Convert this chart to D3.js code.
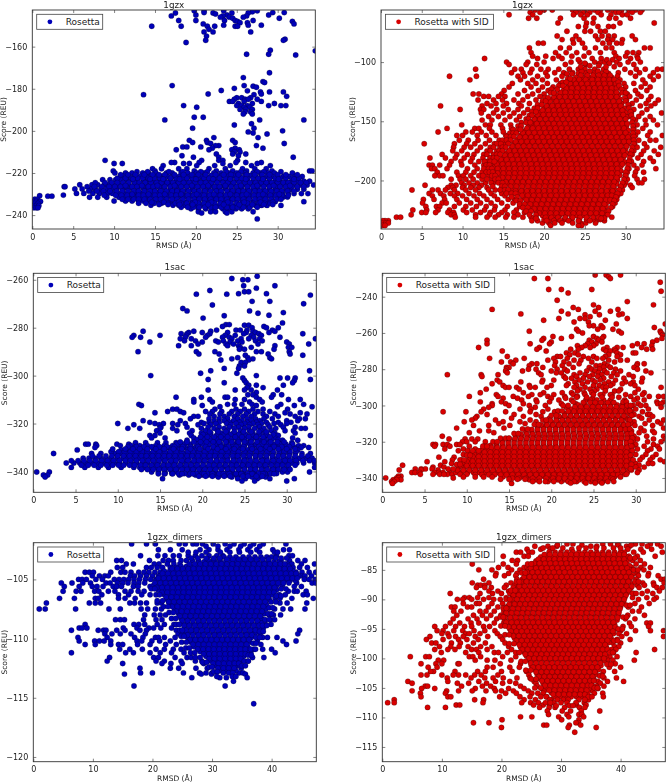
<!DOCTYPE html>
<html lang="en">
<head>
<meta charset="utf-8">
<title>rosetta score vs rmsd</title>
<script src="https://d3js.org/d3.v7.min.js"></script>
<style>
    body { margin: 0; background: #fff; }
    svg { display: block; filter: blur(0.35px); }
    text { font-family: "DejaVu Sans", sans-serif; fill: #222; }
</style>
</head>
<body>
<svg id="canvas" width="666" height="782"></svg>
<script>
// every row is: score, then the rmsd values read at about that score
// (the solid parts can't be read point by point)
const gzxRosetta = [
[-143,19.8,21,23.4,27.5],[-143.4,26.9],[-143.8,21,29.4,30.8],[-144,17.5,22.1,26.4,24.4],[-144.5,22.4],[-145,20,23.8,28.9],[-145.4,17,23.3,26.2],[-146,23,25.8,24.1],[-146.5,24.5,30.2],[-147.6,17.9,20,23.5,24.8,27],[-148,25.1,31.8],[-148.6,25.4,26.3],[-149.2,20.9,32],[-149.8,23.4,26.4,28],[-150.3,14.6,18.2,21.4,22.3,24.8,25.1],[-151.8,21.6],[-153,21,22.1,26.7],[-155,21.3],[-156.5,30.9],[-157,21.2,30.7],[-158,18.8],[-161.7,29.1],[-162,34.6],[-163.6,26.2,28.9],[-164,32.2],
[-172.4,29],[-174.7,25.8],[-176.6,28.2],[-177,28.4],[-178.5,17.1,25.9],[-178.8,27],[-179.3,27.4],[-179.8,24.7],[-180.8,23.1],[-181,26.3],[-181.5,27.9,29,30.7],[-182.5,21.5,28],[-182.8,13.6,27.1],[-183.6,31.1],[-184.3,25,25.6,26.7],[-185,24.7,26,26.4,27.5],[-186,24.1,28,24.5,25.9],[-187,25.2,26.9,29.6],[-188,18.5,25,25.6,28.9,31,26.3,30.4],[-188.8,20.1,25.9,26.6],[-189.8,25.4,26.1,26.9],[-191,26,26.7],[-192,25.8,26.9],[-193.5,19.8,20.9],[-194.8,16.2,27.8,33.2],[-196.6,26.8],[-197.2,24.7],[-198.7,19.6,27.1],[-200,30.6],[-200.5,26.4],[-201,27],[-201.5,28.7],[-203.2,22.2,27.6],[-204.5,24.5,19.2,21.3],[-205.5,19.6,24.8,21.4],[-206,30.8,21.8],[-207,22.8,27.4,22.4],[-207.6,18.4,18.9,20.6],[-208.2,28.2,24.8,22],[-209,17.6,21.6,25.3,24.4],[-210,24.7,25.4],[-211,22.5,26.1,24.5],[-211.8,18.3,25.2],[-212.5,19.7,22.8,31.9],[-214,8.9,22.8,25.1,20.7,23.3],[-215,17.4,17,20.4,26.1,24.9,28],[-215.5,10,11,18.5,19.2,27.5,23.3],[-216.5,16,22.3,29.1,20.1,24.2,26.8],[-218,17.9,14.7,15.8,18.9,21.6,23.6,25.7,27.2,28.6],[-219,9.9,15,33.9,34.2,19.8,22.5,24.5,26.2,29.3],
[-220,10.1,11.4,12.2,13.5,14.2,15.1,16.4,17.1,18.2,19,20.1,21,22.2,23.1,24,25,26,27,27.9,28.8,29.6,31.8],
[-221.5,11.1,11.8,12.5,13.2,13.9,14.5,15.3,15.9],[-221.8,16.6,17.2,17.9,18.7,19.2,19.9,20.6,21.3],[-221.2,21.9,22.6,23.2,24,24.6,25.3,26,26.6],[-221.7,27.3,28,28.7,29.3,30,30.7,31.4,32.1,33],
[-223.2,8.6,9.5,10.2,10.8,11.5,12.2,12.8,13.6,14.2],[-223.8,14.9,15.5,16.2,16.9,17.6,18.3,18.9,19.6,20.3],[-223.5,20.9,21.6,22.3,23,23.7,24.3,25,25.7,26.3],[-223.9,27,27.7,28.3,29,29.7,30.3,31,31.7,32.4,33.2,33.9],
[-225.6,5.8,7.3,8,8.8,9.3,9.9,10.6,11.2,11.8],[-225.2,12.5,13.2,13.9,14.5,15.2,15.9,16.6,17.2],[-225.8,17.9,18.6,19.3,19.9,20.6,21.2,22,22.6,23.3],[-225.4,24,24.6,25.3,26,26.6,27.3,28,28.7],[-225.7,29.3,30,30.7,31.3,32,32.8,33.6,34.4],
[-227.6,5.2,6.1,7.1,7.7,8.4,9.1,9.7,10.3,11],[-227.2,11.6,12.2,12.9,13.6,14.2,14.9,15.6,16.2],[-227.8,16.9,17.6,18.2,18.9,19.6,20.3,21,21.6],[-227.4,22.3,22.9,23.6,24.3,25,25.6,26.3,27],[-227.7,27.6,28.3,29,29.7,30.3,31,31.6,32.4,33.2],
[-229.7,5.4,6.3,7.4,8.2,9.2,9.8,10.5,11.2,11.8,12.5],[-229.2,13.1,13.8,14.5,15.2,15.8,16.5,17.2,17.8],[-229.9,18.5,19.2,19.9,20.6,21.2,21.9,22.6,23.2],[-229.4,23.9,24.6,25.2,25.9,26.6,27.3,27.9,28.6],[-229.8,29.3,29.9,30.6,31.3,32,32.9,33.7],
[-231.5,7,8,9.1,10.6,11.3,12,12.6,13.3,13.9],[-231.2,14.6,15.2,15.9,16.6,17.3,17.9,18.6,19.3],[-231.9,19.9,20.6,21.3,22,22.6,23.3,24,24.6],[-231.4,25.3,26,26.6,27.3,28,28.6,29.3,30,30.7,31.2],
[-233.3,10,11.4,12.2,13,13.6,14.3,15,15.6,16.3],[-233.8,16.9,17.6,18.3,18.9,19.6,20.3,21],[-233.2,21.6,22.3,23,23.6,24.3,25,25.7],[-233.6,26.3,27,27.7,28.3,29,29.7,33.2],
[-235.3,14.5,17.2,17.9,18.6,19.3,20,20.6,21.3],[-235.8,22,22.6,23.3,24,24.6,25.3,26,26.6],[-235.4,27.3,28,28.7,30.4],
[-237,19.4,20.3,21.2,22.1,23.3,24.1,24.9,25.6,26.4],[-238.4,20.3,21.8,22.4,23.6,24.4,27],[-239,20.7,23.8],[-241.8,27.5],
[-230.5,3.8],[-226.5,3.9,4],[-231,1.9,2.4],[-230.8,0.9],[-232.5,0.3,0.6],[-233.5,0.2,0.5,0.9,1],[-234.5,0.3,0.7],[-235.5,0.2,0.5,0.8],[-236.5,0.2,0.5,0.7]
];
const gzxRosettaFill = [
[-222.5,10.4,11.4,12.1,12.9,13.5,14.2,14.9,15.6,16.2,16.9,17.6,18.3,18.9,19.6,20.2,21,21.6,22.3,22.9,23.6,24.3,25,25.6,26.3,27,27.6,28.3,29,29.7,30.3,31,31.8,32.6],
[-224.6,7.7,8.9,9.7,10.4,11.1,11.8,12.5,13.1,13.8,14.5,15.2,15.8,16.5,17.2,17.9,18.5,19.2,19.9,20.6,21.2,21.9,22.6,23.3,23.9,24.6,25.3,26,26.6,27.3,28,28.6,29.3,30,30.7,31.3,32,32.8,33.5],
[-226.5,6.7,7.6,8.5,9.4,10.1,10.8,11.5,12.2,12.8,13.5,14.2,14.8,15.5,16.2,16.9,17.5,18.2,18.9,19.6,20.2,20.9,21.6,22.3,22.9,23.6,24.3,25,25.6,26.3,27,27.6,28.3,29,29.7,30.3,31,31.7,32.4,33.2],
[-228.6,6.9,7.9,8.7,9.5,10.3,11,11.7,12.4,13,13.7,14.4,15,15.7,16.4,17.1,17.7,18.4,19.1,19.8,20.4,21.1,21.8,22.5,23.1,23.8,24.5,25.2,25.8,26.5,27.2,27.8,28.5,29.2,29.9,30.5,31.2,32],
[-230.6,8.8,10.2,10.9,11.6,12.3,13,13.6,14.3,15,15.6,16.3,17,17.6,18.3,19,19.7,20.3,21,21.7,22.4,23,23.7,24.4,25,25.7,26.4,27.1,27.7,28.4,29.1,29.8,30.5,31.3],
[-232.5,11,11.7,12.4,13,13.7,14.4,15.1,15.7,16.4,17.1,17.7,18.4,19.1,19.8,20.4,21.1,21.8,22.5,23.1,23.8,24.5,25.1,25.8,26.5,27.2,27.8,28.5,29.2,29.9,30.4],
[-234.4,13,13.9,14.9,15.8,16.6,17.5,18.2,18.9,19.6,20.3,21,21.6,22.3,23,23.7,24.3,25,25.7,26.3,27,27.7,28.4,29.1],
[-236.3,18.2,19,19.7,20.4,21.1,21.8,22.4,23.1,23.8,24.5,25.1,25.8,26.6,27.5]
];
const gzxRosettaEdge = [
[-219.4,12.8,14.1,16.7,18.4,20.6,21.4,23.7,25.5,27.5,28.3,30.4],[-220.8,10.8,11.7,12.6,13.7,14.7,15.5,16.2,17.4,18.5,19.5,20.3,21.2,22.4,23.4,24.3,25.2,26.2,27.2,28.1,29,30,31,32.4],[-222.9,12.3,14.4,16,18,20,22.1,24.2,26.1,28.2,30.1,32],[-226,11.4,13.4,15.3,17.4,19.5,21.5,23.6,25.5,27.5,29.5,31.5],[-230.1,12.2,14.2,16.2,18.2,20.1,22.2,24.2,26.2,28.2,30.2],[-233.9,14.6,16.1,17.9,19.9,21.9,23.9,25.9,27.9,29.4],[-235,15.5,16.6,18,19.6,21.5,23.4,25.3,26.9,28.3,29.4]
];
const gzxSid = [
[-56,18.9,20,21,23.5,24.2,25,26.2,26.9,27.8,28.4,29.5,30.4,31.2,32],[-58,18.3,19.5,23.9,24.8,25.6,26.6,28.8,29.2,30.8,31.8],[-60,15.7,18.6,23.6,24.5,25.3,27,28.2,29.6,30.2],[-63,18.1,19.1,22,24.9,26.1,28,28.8,30.6],[-67,21.7,25.2,26,29.3,33.5],[-70,24.2,25.1,26.6,27.9,28.5],[-74,22.8,25,25.7,26.9,27.5],[-78,21.6,23.9,26.3,27.1,27.9,28.6,30.8],[-81,22.2,23.5,24.3,26.6,27.8,28.4,29.6,31.2],[-84,19.3,19.9,23.6,24.7,27.2,28,28.9,29.5],[-88,18.2,22,23.1,25,26.3,27.6,28.3,32.3,33],[-92,18.4,21.4,22.7,24,25.5,26.9,28.6,30.2,30.9,31.6],[-95,18.6,20.2,21.8,23.4,24.9,28.8,30,31.4],[-97,12.7,19.2,21.1,22.2,25.9,27,29.2,30.6,31.5],[-100,15.4,18,20,23.3,24.4,26.2,27.4,28.9,30.3,31.8],[-102,15.7,17.8,19.1,22.6,25.1,29.3,31],[-106,11.6,16.4,17.2,18.5,19.6,20.5,21.8,23.1,24.2,29.9,31.3,32.4,33.9,34.5],[-109,16,17.4,18.3,20.2,21.3,22.4,23.5,29.1,30.6,31.7,33.4],[-112,8.4,11.7,16.8,17.6,19.2,20.4,22.2,29,31.2,33,34],[-115,10.9,17.1,18.6,19.8,21.5,29.3,32.1,33.4],[-118,16.1,18,19,20.4,22,29.8,31,32.4],[-121,15.7,18.4,19.8,21.1,30,31.9,33],[-124,15.1,17.6,19.3,20.5,29.8,31.2,32.6],[-127,11.3,12,14.8,16.8,18.6,20,30.2,31.5],[-129,12.6,13.2,14.4,15.2,18,19.5,30.5,31.9,33.1],[-132,11.9,13.8,14.9,16.3,17.4,19,30.1,31.3,32.8,34],[-135,13,14.1,15.4,16.9,18.2,30.8,32.5,33.6],[-137,7.3,12.4,13.5,15,17.2,30.4,31.8,33.1],[-140,9.7,12.2,12.6,14.2,15.6,16.8,18,31,32.6],[-143,12.3,13.8,15,16.3,17.5,30.7,32,34.4],[-146,13.2,14.4,15.8,17,30.4,31.6,33],[-149,12.4,13.6,15.2,16.6,31.2,32.4,33.4],[-153,9.9,12.8,13.4,14.7,15.9,31.4,32.5,33.9],[-156,8.1,11.5,12,13.3,14.9,16,31,32.1],[-159,7,10.4,11.2,12.3,13.6,15,31.5,33],[-162,9.3,10,11.8,12.9,14.1,15.3,31.2,32.7,34.5],[-166,9.6,10.7,11.9,13.3,14.5,31.6,33,33.7],[-169,5.3,9,10.5,11.5,12.8,13.9,15,31.1,32.3],[-172,8.9,10.2,11,12.2,13.4,14.6,31.4,32.6,34.3],[-175,8.8,9.9,11.8,13,14.2,31,32.2,33.5],[-178,7.5,9.3,10.6,11.4,12.6,13.8,30.8,31.9,34],[-181,6,7.9,9.1,10.2,11.2,12.5,13.4,31.5,33],[-184,8.6,9.8,11,12,13,30.7,32.2,33.4],[-187,5.9,6.3,7.2,8.4,9.9,11.5,12.6,13.5,31,32],[-190,6.2,6.6,8.1,10.6,11.8,13.1,30.4,31.4,33.7],[-193,6.9,9.3,10.4,11.4,12.4,30.2,31.2,32.2],[-196,6.6,7.2,7.6,9.5,10.1,11,12,13.1,30,31.1],[-199,8.6,9.7,10.4,11.3,12.4,13.6,30.2,31.4,32.3],[-202,9.9,10.8,11.8,12.8,13.8,30,31.6,32],[-204,5.4,8.6,9.2,10.2,11.3,12.3,29.8,30.6],[-206,8.2,8.8,10,11,12,13,29.4,30.8],[-208,3.8,6.3,7,7.9,9,10.4,11.6,13.2,14,29.6],[-211,5.9,7.3,8.5,9.4,10.8,12.1,13.5,14.8,29.4],[-213,6.3,7.7,9,10,11.4,12.6,13.9,15.2,29],[-216,5.2,6.5,7.8,9.3,10.5,11.8,13,14.3,15.6,16.4,28.9],[-219,5.1,7.5,8,9.6,11,12.2,13.5,14.8,16.2,28.7],[-222,5.5,6.8,7.2,9,10.4,11.7,12.9,14,15.5,17,28.4],[-225,3.9,5.6,7,8.4,10.1,11.2,12.7,13.9,15.2,16.6],[-227,5,5.5,6.7,8.2,8.9,10.5,12.2,13.4,14.8,16.3,17.6],[-229,3.7,8.6,9,11.6,13.3,14.4,15.5,16.8],[-231,1.9,2.4,9.1,11.6,13,14,15.3,16.3,17.4,18.4,19,28.3],[-234,0.9,0.5,0.2,18.5,19.2,27.4,26.4],[-236,0.2,0.6,0.9,19.8,20.6,24.5,25.1,26.3],[-238,0.2,0.5,20.8,24.6,24.2],
[-106,25,26.2,27.3],[-109.5,24.2,25.1,26.1,27,27.9],[-113,23.9,24.7,25.5,26.2,27,27.7,28.3],[-116.5,23.4,24.1,24.8,25.6,26.3,27,27.7,28.4],[-120,23,23.7,24.4,25.1,25.8,26.5,27.2,27.9,28.6],[-123.8,22.4,23.1,23.8,24.5,25.2,25.9,26.6,27.3,28,28.7],[-127.5,21.5,22.2,22.9,23.6,24.3,25,25.7,26.4,27.1,27.8,28.5,29.1],[-131.3,21,21.6,22.3,23,23.7,24.4,25.1,25.8,26.5,27.2,27.9,28.6,29.3],[-135,20.5,21.3,21.9,22.6,23.3,24,24.7,25.4,26.1,26.8,27.5,28.2,28.9,29.5],[-139,20,20.7,21.4,22.1,22.8,23.5,24.2,24.9,25.6,26.3,27,27.7,28.4,29.1,29.8],[-142.6,19.5,20.2,20.9,21.6,22.3,23,23.7,24.4,25.1,25.8,26.5,27.2,27.9,28.6,29.3,30],[-146.4,19,19.7,20.4,21.1,21.8,22.5,23.2,23.9,24.6,25.3,26,26.7,27.4,28.1,28.8,29.5,30.1],[-150,18.7,19.4,20.1,20.8,21.5,22.2,22.9,23.6,24.3,25,25.7,26.4,27.1,27.8,28.5,29.2,29.9],[-154,18.1,18.8,19.5,20.2,20.9,21.6,22.3,23,23.7,24.4,25.1,25.8,26.5,27.2,27.9,28.6,29.3,30.1],[-157.8,17.7,18.4,19.1,19.8,20.5,21.2,21.9,22.6,23.3,24,24.7,25.4,26.1,26.8,27.5,28.2,28.9,29.6,30.3],[-161.5,17.2,17.9,18.6,19.3,20,20.7,21.4,22.1,22.8,23.5,24.2,24.9,25.6,26.3,27,27.7,28.4,29.1,29.8,30.4],[-165.3,16.8,17.5,18.2,18.9,19.6,20.3,21,21.7,22.4,23.1,23.8,24.5,25.2,25.9,26.6,27.3,28,28.7,29.4,30.1,30.6],[-169,16.3,17,17.7,18.4,19.1,19.8,20.5,21.2,21.9,22.6,23.3,24,24.7,25.4,26.1,26.8,27.5,28.2,28.9,29.6,30.3],[-173,16,16.7,17.4,18.1,18.8,19.5,20.2,20.9,21.6,22.3,23,23.7,24.4,25.1,25.8,26.5,27.2,27.9,28.6,29.3,30],[-176.8,15.4,16.1,16.8,17.5,18.2,18.9,19.6,20.3,21,21.7,22.4,23.1,23.8,24.5,25.2,25.9,26.6,27.3,28,28.7,29.4,30.1],[-180.5,15,15.7,16.4,17.1,17.8,18.5,19.2,19.9,20.6,21.3,22,22.7,23.4,24.1,24.8,25.5,26.2,26.9,27.6,28.3,29,29.7],[-184.3,14.5,15.2,15.9,16.6,17.3,18,18.7,19.4,20.1,20.8,21.5,22.2,22.9,23.6,24.3,25,25.7,26.4,27.1,27.8,28.5,29.2,29.9],[-188,14,14.7,15.4,16.1,16.8,17.5,18.2,18.9,19.6,20.3,21,21.7,22.4,23.1,23.8,24.5,25.2,25.9,26.6,27.3,28,28.7,29.4],[-192,14,14.7,15.4,16.1,16.8,17.5,18.2,18.9,19.6,20.3,21,21.7,22.4,23.1,23.8,24.5,25.2,25.9,26.6,27.3,28,28.7,29.4],[-195.7,14.6,15.3,16,16.7,17.4,18.1,18.8,19.5,20.2,20.9,21.6,22.3,23,23.7,24.4,25.1,25.8,26.5,27.2,27.9,28.6,29.3],[-199.4,15,15.7,16.4,17.1,17.8,18.5,19.2,19.9,20.6,21.3,22,22.7,23.4,24.1,24.8,25.5,26.2,26.9,27.6,28.3,29],[-203,15.6,16.3,17,17.7,18.4,19.1,19.8,20.5,21.2,21.9,22.6,23.3,24,24.7,25.4,26.1,26.8,27.5,28.2,28.9],[-207,16,16.7,17.4,18.1,18.8,19.5,20.2,20.9,21.6,22.3,23,23.7,24.4,25.1,25.8,26.5,27.2,27.9,28.6],[-210.8,17,17.7,18.4,19.1,19.8,20.5,21.2,21.9,22.6,23.3,24,24.7,25.4,26.1,26.8,27.5,28.2,28.7],[-214.5,17.5,18.2,18.9,19.6,20.3,21,21.7,22.4,23.1,23.8,24.5,25.2,25.9,26.6,27.3,28,28.4],[-218.2,18,18.7,19.4,20.1,20.8,21.5,22.2,22.9,23.6,24.3,25,25.7,26.4,27.1,27.8],[-222,18.5,19.2,19.9,20.6,21.3,22,22.7,23.4,24.1,24.8,25.5,26.2,26.9,27.6],[-225.8,19,19.7,20.4,21.1,21.8,22.5,23.2,23.9,24.6,25.3,26,26.7,27.4],[-229.5,19.8,20.5,21.2,21.9,22.6,23.3,24,24.7,25.4,26.1,26.8,27.4],[-233,20,20.7,21.6,22.5,23.4,24.3,25.2,26,26.9]
];
const gzxSidFill = [
[-107.8,24.6,25.6,26.6,27.6],[-111.2,24.5,25.3,26,26.7,27.4,28.1],[-114.8,23.6,24.3,25.1,25.9,26.6,27.3,28,28.6],[-118.3,23.2,23.9,24.6,25.3,26,26.7,27.4,28.1,28.8],[-122,22.7,23.4,24.1,24.8,25.5,26.2,26.9,27.6,28.3,28.9],[-125.7,22,22.6,23.3,24,24.7,25.4,26.1,26.8,27.5,28.2,28.9],[-129.4,21.2,21.9,22.6,23.3,24,24.7,25.4,26.1,26.8,27.5,28.2,28.9],[-133.2,20.7,21.5,22.2,22.9,23.6,24.3,25,25.7,26.4,27.1,27.8,28.5,29.2],[-137,20.3,21,21.7,22.4,23.1,23.8,24.5,25.2,25.9,26.6,27.3,28,28.7,29.4],[-140.8,19.8,20.5,21.2,21.9,22.6,23.3,24,24.7,25.4,26.1,26.8,27.5,28.2,28.9,29.6],[-144.5,19.2,19.9,20.6,21.3,22,22.7,23.4,24.1,24.8,25.5,26.2,26.9,27.6,28.3,29,29.7],[-148.2,18.8,19.5,20.2,20.9,21.6,22.3,23,23.7,24.4,25.1,25.8,26.5,27.2,27.9,28.6,29.3,30],[-152,18.4,19.1,19.8,20.5,21.2,21.9,22.6,23.3,24,24.7,25.4,26.1,26.8,27.5,28.2,28.9,29.6,30.2],[-155.9,17.9,18.6,19.3,20,20.7,21.4,22.1,22.8,23.5,24.2,24.9,25.6,26.3,27,27.7,28.4,29.1,29.8],[-159.7,17.4,18.1,18.8,19.5,20.2,20.9,21.6,22.3,23,23.7,24.4,25.1,25.8,26.5,27.2,27.9,28.6,29.3,30],[-163.4,17,17.7,18.4,19.1,19.8,20.5,21.2,21.9,22.6,23.3,24,24.7,25.4,26.1,26.8,27.5,28.2,28.9,29.6,30.3],[-167.2,16.5,17.2,17.9,18.6,19.3,20,20.7,21.4,22.1,22.8,23.5,24.2,24.9,25.6,26.3,27,27.7,28.4,29.1,29.8,30.4],[-171,16.1,16.8,17.5,18.2,18.9,19.6,20.3,21,21.7,22.4,23.1,23.8,24.5,25.2,25.9,26.6,27.3,28,28.7,29.4,30.1],[-174.9,15.7,16.4,17.1,17.8,18.5,19.2,19.9,20.6,21.3,22,22.7,23.4,24.1,24.8,25.5,26.2,26.9,27.6,28.3,29,29.7],[-178.7,15.2,15.9,16.6,17.3,18,18.7,19.4,20.1,20.8,21.5,22.2,22.9,23.6,24.3,25,25.7,26.4,27.1,27.8,28.5,29.2,29.9],[-182.4,14.7,15.4,16.1,16.8,17.5,18.2,18.9,19.6,20.3,21,21.7,22.4,23.1,23.8,24.5,25.2,25.9,26.6,27.3,28,28.7,29.4],[-186.2,14.2,14.9,15.6,16.3,17,17.7,18.4,19.1,19.8,20.5,21.2,21.9,22.6,23.3,24,24.7,25.4,26.1,26.8,27.5,28.2,28.9,29.6],[-190,14.3,15,15.7,16.4,17.1,17.8,18.5,19.2,19.9,20.6,21.3,22,22.7,23.4,24.1,24.8,25.5,26.2,26.9,27.6,28.3,29],[-193.9,14.3,15,15.7,16.4,17.1,17.8,18.5,19.2,19.9,20.6,21.3,22,22.7,23.4,24.1,24.8,25.5,26.2,26.9,27.6,28.3,29],[-197.6,14.9,15.6,16.3,17,17.7,18.4,19.1,19.8,20.5,21.2,21.9,22.6,23.3,24,24.7,25.4,26.1,26.8,27.5,28.2,28.9],[-201.2,15.3,16,16.7,17.4,18.1,18.8,19.5,20.2,20.9,21.6,22.3,23,23.7,24.4,25.1,25.8,26.5,27.2,27.9,28.6],[-205,15.9,16.6,17.3,18,18.7,19.4,20.1,20.8,21.5,22.2,22.9,23.6,24.3,25,25.7,26.4,27.1,27.8,28.5],[-208.9,16.5,17.2,17.9,18.6,19.3,20,20.7,21.4,22.1,22.8,23.5,24.2,24.9,25.6,26.3,27,27.7,28.4],[-212.7,17.3,18,18.7,19.4,20.1,20.8,21.5,22.2,22.9,23.6,24.3,25,25.7,26.4,27.1,27.8,28.3],[-216.4,17.8,18.5,19.2,19.9,20.6,21.3,22,22.7,23.4,24.1,24.8,25.5,26.2,26.9,27.6,28.1],[-220.1,18.3,19,19.7,20.4,21.1,21.8,22.5,23.2,23.9,24.6,25.3,26,26.7,27.4],[-223.9,18.8,19.5,20.2,20.9,21.6,22.3,23,23.7,24.4,25.1,25.8,26.5,27.2],[-227.7,19.4,20.1,20.8,21.5,22.2,22.9,23.6,24.3,25,25.7,26.4,27.1],[-231.3,20.2,20.9,21.7,22.6,23.5,24.4,25.2,26,26.7]
];
const gzxSidEdge = [
[-98,24.2,27.7,28.4],[-101,25,26.8,28],[-103,25.6,26.7],[-104,24.5,27.6,28.6],[-110,23.4,22.8],[-114,22.9,23.2],[-117,22.3,22.7,29.1],[-120,21.8,22.3,29.2],[-123,21.6,20.9,29.5],[-126,20.8,21.2,29.6,30],[-130,20.1,20.5,29.9],[-133,19.8,20.2,30],[-136,19.2,19.7,30.3],[-139,18.8,19.2,30.4],[-142,18.5,19,30.6],[-145,18.2,18.5,30.7],[-148,17.8,18.1,30.9],[-151,17.2,17.8,18.3,30.8],[-154,16.8,17.2,30.9],[-157,16.2,16.8,17.1,30.9],[-160,15.8,16.2,16.6,30.9],[-163,15.4,15.9,16.3,31],[-166,14.9,15.4,15.9,31],[-169,14.2,14.7,15.6,31],[-172,13.8,14.9,15.3,30.8],[-175,13.4,14.5,14.9,30.7],[-178,13,14.2,14.6,30.6],[-181,13.4,13.8,14.2,30.5],[-184,12.7,13.4,13.9,30.4],[-187,12.9,13.3,30.3],[-190,12.6,13.2,13.6,30.2],[-193,12.9,13.3,13.7,30],[-196,12.5,13.6,14,30],[-199,13,14,14.4,29.8],[-202,13.5,14.4,14.9,29.6],[-205,13.7,14.8,15.2,29.4],[-208,14.6,15.2,15.6,29.2],[-211,15.4,16,16.5,29],[-214,16,16.7,28.8],[-217,16.6,17.1,28.6],[-220,17,17.6,28.4],[-223,17.4,18,28.2],[-226,17.8,18.4,27.9],[-229,18.2,19,27.8],[-232,19,27.4,27],[-234,20.3,21.2,22,23,24.2,25.6],[-236,21.3,22.2,23.5]
];
const sacRosetta = [
[-258.5,26.5],[-259.5,23.5],[-260,24.8,25.4],[-262.5,24.9,28.6],[-263.5,26.4],[-264.5,20.9],[-265,25,25.5],[-265.8,24.3,27.6],[-266,19.3,22.9],[-266.4,32.8],[-269,25.9,28],[-270,32],[-270.5,21.2],[-272,17.7],[-273,18.2,25.6],[-273.7,29.6],[-274,26.6],[-274.8,27.9],[-275,22.6],[-276,20.1],[-278,29.5],[-278.7,22.8,23.2],[-279,25,25.5],[-279.5,27.3,22.4],[-280,27.6,29,25.9],[-281,21.7,24,24.5,25.3,28.3],[-281.5,13,19,21,26,28.6],[-282,18.4,20,23,27.9,25.2,26.3],[-282.5,31.9,17.5,18.2,20.9,24.9,26.7],[-283.2,15,11.9,18.1,20.6,27,22.7,23.9,25.8],[-284,11.7,12.7,18,23.2,26.1,29.2,20.4,22.4],[-284.6,17.4,18.7,33.4,24.6,25.5,26.8,23.5],[-285.5,17.9,19.2,21.6,22.5,24.2,26.3,27.1],[-286,13.8,20,21.9,23.3,24.7,30],[-286.8,19.5,22.8,32.6,23.7,26.6,30.3],[-287.5,17.2,18.7,23,24.3,28.6],[-288.2,30.2,30.6,25.8,24.5],[-289,24.4,25,28.5],[-290,12.4,19.3,21.5,26.4,27,30.3],[-291,19.6,22,27.8,30.4],[-291.5,31.9,25.1],[-292.5,24.2,28,25.4],[-293,23.5,26,28.2],[-293.5,22.2,25.5],[-294.5,24.6,25.1],[-296,25,24.4],[-297,24.3,22.6],[-298,21,32.7],[-299,19.8,24.1],[-300,13.9,26.4],[-301,24.8,29.2,30.1,31],[-301.6,20.7,32.8],[-302,25,30.9],[-303,22.6,25.2,30.7],[-304,26.4,29.6,25.5],[-305,27.2,25.3],[-306,20.7,23.9,25.8,28.9,25],[-307,26.4],[-308,25.4,28.4,26,29.4],[-309,19.9,22.7,23,26.4,28.2,16.9],[-310,19,20.9,23.9,25,26.8,30.2,31.6],[-311,19,21.2,27.1,25.6],[-312,12.5,23,23.8,24.7,25.9,29.3,32],[-312.5,12.8,20,26.4,30.9],[-313,22.1,28.9,33],[-314,16.5,17,21.5,24,25,26,27.2,30.1],[-315,15.9,17.4,20.4,21.2,22.3,23.5,24.5,25.5,26.6,28],[-315.5,14.4,17.8,29.8,31.6],[-316,20.9,22.1,23.2,24.2,25.2,26.2,27.2,28.6,30.4,32.4],[-317,19,19.5,21.4,22.6,23.8,24.8,25.8,27.6,29,31],[-318,18.6,20.8,22,23,24.2,25.3,26.3,27.3,28.3,31.5,32.2],[-318.8,13,17.4,21.4,22.6,23.7,24.7,25.8,26.8,30,31.3],[-319.5,13.8,19.9,20.8,22,23.2,24.4,25.3,26.4,27.6,29,30.5],[-320,10,14.4,15.4,16.5,18,20.2,21.6,22.9,24,25,26,27,28.5,30],[-320.5,11.9,14.9,17.1,19.5,21,23.4,24.6,25.6,26.6,27.8,29.3],[-321.5,15.1,18.2,20.7,22,23.2,24.3,25.5,26.8,28,29.6,31],[-322,11.2,12.6,15,16.5,19.9,21.4,22.6,23.8,25,26.2,27.3,28.7,31.7,32.2],[-323,14.6,17,18.8,20.4,21.8,23,24.5,25.6,26.9,28.2,29.8,30.8],[-324,15,18.5,19.9,21,22.3,23.7,24.8,26,27.4,28.6,31],[-325,13.8,14.4,18.7,20.5,21.7,23,24.2,25.3,26.5,27.7,29,32.8],[-326,14,15.6,19,20.2,21.4,22.6,23.8,25,26.1,27.3,28.6,30.7],[-327,18.2,19.7,20.8,22,23.2,24.4,25.7,26.8,28,29.5,31.3],[-328,12.1,13.3,14.7,15.7,16.9,18.1,19.4,20.6,21.7,22.9,24.1,25.3,26.5,27.7,29,30.6],[-328.6,6.2,6.5,7.4,9.9,11.3],[-329.2,7.5,10.3,11.6,12.6,13.5,14.5,15.5,16.5,17.5,18.6,19.6,20.7,21.7,22.8,23.9,25,26.1,27.2,28.3,29.4,30.5,31.4,32],[-330,7.3,12,13,14.1,15,16,17,18,19.2,20.3,21.4,22.4,23.5,24.6,25.7,26.7,27.8,28.9,29.9,30.9,31.7,32.6],[-331,5.2,10.4,11.4,12,13.2,14.3,15.3,16.3,17.3,18.3,19.3,20.3,21.3,22.3,23.3,24.3,25.3,26.3,27.3,28.3,29.3,30.3,31.3],
[-332.5,2.4,6.9,8,9.6,10.4,11.1,11.8,12.5,13.2,13.8,14.5,15.2,15.8,16.5,17.2,17.8,18.5,19.2,19.8,20.5,21.1,21.8,22.5,23.1,23.8,24.4,25.1,25.8,26.4,27.1,27.8,28.4,29.1,29.7,30.3,31,31.8,32.8],
[-334.5,5.9,6.6,7.3,8,8.6,9.2,9.9,10.6,11.2,11.9,12.5,13.2,13.8,14.5,15.2,15.8,16.5,17.1,17.8,18.4,19.1,19.8,20.4,21,21.7,22.4,23,23.7,24.3,25,25.6,26.3,27,27.6,28.3,28.9,29.6,30.2,30.9,31.5,32.3,33],
[-336.5,3.9,4.8,5.5,6.2,6.9,7.6,8.3,9,9.6,10.2,10.9,11.6,12.2,12.9,13.5,14.2,14.8,15.5,16.2,16.8,17.5,18.1,18.8,19.4,20.1,20.8,21.4,22,22.7,23.4,24,24.7,25.3,26,26.6,27.3,28,28.6,29.3,29.9,30.6,31.2,32,33.3],
[-338.3,4.5,6.1,7.7,8.9,10.4,11.9,12.6,13.2,13.9,14.5,15.2,15.8,16.5,17.1,17.8,18.5,19.1,19.8,20.4,21.1,21.7,22.4,23,23.7,24.4,25,25.7,26.3,27,27.6,28.3,28.9,29.6,30.2,33.3],
[-340.2,0.4,1.9,14,14.8,15.6,16.4,17,17.7,18.4,19,19.7,20.3,21,21.6,22.3,23,23.6,24.3,24.9,25.6,26.2,26.9,27.5,28.2,28.8,29.5,30.1,32.7],
[-341.5,1.2,1.7,17.3,18.4,19.2,20,20.7,21.5,22.2,22.9,23.6,24.2,24.9,25.6,26.2,26.9,27.6],[-342.3,1.4,21.9,23.5,24.2,25,25.9,26.8,27.5],[-343,15.3,24.2,30.9,25.1,26.5,28],[-344,24.7,26.2,30]
];
const sacRosettaFill = [
[-324.6,20.1,20.9,21.8,22.6,23.4,24.3,25.1,25.9,26.8,27.6,28.4],[-326.7,19.4,20.2,21,21.8,22.6,23.4,24.2,25,25.8,26.6,27.4,28.2,29],[-328.6,17,17.8,18.6,19.4,20.1,20.8,21.5,22.2,22.9,23.6,24.3,25,25.7,26.4,27.1,27.8,28.5,29.2,29.9,30.7],
[-331.8,9.2,10.1,10.8,11.5,12.2,12.9,13.5,14.2,14.9,15.6,16.2,16.9,17.6,18.3,18.9,19.6,20.3,21,21.6,22.3,23,23.7,24.3,25,25.7,26.4,27,27.7,28.4,29.1,29.7,30.4,31.1],
[-333.5,7,7.8,8.6,9.3,10,10.7,11.4,12.1,12.8,13.4,14.1,14.8,15.5,16.1,16.8,17.5,18.2,18.8,19.5,20.2,20.9,21.5,22.2,22.9,23.6,24.2,24.9,25.6,26.3,26.9,27.6,28.3,29,29.6,30.3,31,31.8,32.5],
[-335.5,4.5,5.3,6,6.7,7.4,8.1,8.8,9.5,10.2,10.9,11.5,12.2,12.9,13.6,14.2,14.9,15.6,16.3,16.9,17.6,18.3,19,19.6,20.3,21,21.7,22.3,23,23.7,24.4,25,25.7,26.4,27.1,27.7,28.4,29.1,29.8,30.4,31.1,31.9,32.7,33.3],
[-337.4,5.7,6.5,7.2,8,8.7,9.4,10.1,10.7,11.4,12,12.7,13.3,14,14.7,15.4,16,16.7,17.4,18.1,18.7,19.4,20.1,20.8,21.4,22.1,22.8,23.5,24.1,24.8,25.5,26.2,26.8,27.5,28.2,28.9,29.5,30.2,31],
[-339.2,12.8,13.5,14.2,14.9,15.5,16.2,16.9,17.6,18.2,18.9,19.6,20.3,20.9,21.6,22.3,23,23.6,24.3,25,25.7,26.3,27,27.7,28.4,29,29.7,30.4],
[-340.9,15.6,16.4,17.2,17.9,18.6,19.3,20,20.6,21.3,22,22.7,23.3,24,24.7,25.4,26,26.7,27.4,28.1,28.8]
];
const sacRosettaEdge = [
[-323.4,20.9,21.9,22.8,23.8,24.9,25.8,26.7,27.6],[-325.6,19.8,20.6,21.4,22.2,23,23.9,24.7,25.5,26.4,27.2,28],[-327.7,17.4,18.2,19,19.8,20.5,21.3,22,22.8,23.5,24.3,25,25.8,26.5,27.3,28.1,28.9,29.7],[-329.7,11.2,12.2,13.1,14,14.9,15.8,16.7,17.7,18.6,19.5,20.4,21.3,22.2,23.1,24,24.9,25.8,26.7,27.6,28.5,29.4,30.3],[-330.6,9.4,10.9,11.8,12.6,13.5,14.5,15.5,16.6,17.6,18.6,19.7,20.7,21.8,22.8,23.8,24.8,25.9,26.9,28,29,30,31],[-341,14.8,15.5,16.5,17.6,18.9,20.2,21.2,22.5,23.2,24.6,25.9,27.2,28.5],[-342,19.6,20.4,21.2,22.6,23.3,24.8,25.4,26.4,27.1]
];
const sacSid = [
[-228,25.2,28.2,26.5],[-229,26.8],[-230,18,19.6,27],[-232,32.9],[-236,19.7,21.2,24.8],[-237,33],[-238,22],[-242,20.7],[-242.7,29],[-244.5,32.1,25],[-246,22.6,25.6],[-247,13,23.2,27.9],[-248,21.2,25.2,27],[-249.5,16.4,22,28.4],[-250,24,25.7,28],[-251,24.6],[-252,20.9,29,23.4,24],[-253,19.1,26.4],[-254,22.7,24.4],[-255,27.7,33.5],[-256,25,25.9,24.5],[-257,26.1,32.2],[-258,23,25.5,27.3],[-259,17.4,23.2,28,32.9],[-260,23.7,28.3,33],[-261,33.2],[-262,20.2,22.4,25,26.2],[-263,19.1,21.2,26,25.4,33.1],[-264,12.4,18.9,24.5,25.6,32.5],[-265,20,24.8,26,32],[-266,12.4,17.5,19.8,24.3,25.3,30.2,31],[-267,23.1,24,25,29.6,31.9],[-268,11.4,18.6,23.6,24.6,26.6,27.8,28.5,30.7],[-269,18.3,22.3,23.2,26.2,27.5,31.3,32],[-270,14.2,19.4,26.5,27,27.6],[-271,21.8,22.8,27.8,29.7,30],[-272,22.2,23.2,26.8,28.2],[-273,14.8,20.7,21.1,23.8,25,26.4,27.8],[-274,12.7,16.8,20.3,21.9,24.4,25.4,26.1],[-275,15.8,19.6,22.7,23.5,26.8,28.2,29],[-276,14.1,15.2,20.5,21.5,24.8,27.5],[-277,15.5,17.7,18.3,22.1,23.3,26.3,30.2,31],[-278,17.4,20.4,21.3,25.3,25.8,26.7,30.1],[-279,14.7,15,19,22.6,24.5,26.2,27,29.8],[-280,14.7,17.3,18.2,20.7,21.6,24.8,25.7,27.6,30.2],[-281,14.6,16.6,20,21.9,24.2,25.2,26.3,28.2,31.2],[-282,14.8,18.5,20.6,21.2,23.4,25.6,26.6,27.4,31.8],[-283,7.7,11.7,13.7,18.8,22.7,24,24.9,26,27.8,29.2],[-284,11.8,21.5,23,24.5,25.5,27.1,29.7],[-285,21.7,22.4,23.8,26.2,28.6,30.8],[-286,13.6,19,20.3,23.3,24.9,25.8,27.6],[-287,13.9,16.4,18.9,22.8,24.3,25.2,26.8,28.8,29.7,30.7],[-288,13,22,23.7,26.3,27.3,28.4,29.4],[-289,14.3,17.4,20,21.8,23,25,25.7,27,29.9],[-290,14.6,15,15.9,17.5,18.1,19.5,22.7,24,26.1,26.5,33],[-291,12.3,16.2,23.4,24.6,25.4,28.2,30.3],[-292,23.1,25.1,26.4,27.5,28],[-293,11.6,16.7,19.1,21.3,22.4,23.9,24.8,29.9,31],[-294,13.5,17.7,18.7,20.3,22.6,26.1,27.2,28.8,30.8],[-295,10.3,13.7,15.5,17.3,19.6,21.6,23.1,29.4,31.6,32.7,33.3],[-296,14.3,16,20,21.7,24.9,30.2],[-297,16.5,18.2,20.9,22.4,24.1,28.7,29.8,31],[-298,11.6,14.1,18.3,19.8,32.5,33.3],[-299,13,14.6,16.7,21.2,22.9,28.9,30.3,32.6,33],[-300,13,15,17.4,19.3,29.7,30.6,31.2],[-301,12.6,18.1,21.8,29.3,33],[-302,12,16.3,17.6,19.6,29.1,30,31.5],[-303.5,7.2,9.9,11.7,14.6,17.5,19,20.4,29.5,30.8],[-305,12.4,15.6,18.2,29.8,31.4,31.7],[-306,11.2,16.7,18.8,20.9,30.4,32],[-307,11,15.3,19.8,28.9,30.7],[-308,10.6,13.4,17.5,29.1,31.6,33.3],[-309,9.7,14.3,16.3,18.2,29.8,32.6],[-310,13.8,16.9,29.4,31.1,33],[-311,10.8,12.6,15.1,29.9,32],[-312.5,8.8,14.4,29.2,30.6,33.3],[-314,11.5,12.6,29.5,31,32],[-315,10.3,13.2,29,30.4,32.2],[-317,7.1,29.8,31.3,33.3],[-318.5,7.9,9.8,10.6,11.3,30.2,32.1,33.5],[-320,9.5,10,11,12.2,29.7,31.4,33],[-321.5,6,6.3,7.2,7.7,8.8,9.2,30,32.1],[-322.5,6.2,8,10.3,12,29.6,31,32.6],[-324,7.4,9.6,11,30.2,31.8,32.8],[-325,9,10.1,29.4,31.4],[-327,9.6,10.5,11.4,30,31.2,32.4],[-328.5,6.7,8.5,29.4,30.8,32],[-330,8.3,9.4,30.5,31.7,32.9],[-331,5.3,7.4,33.4],[-332,8.2,30,31.5,32],[-333,2.4,6.9,30.4],[-334,7.3,6,30,31],[-335,3.9,4.6,5.1,5.9,29.2],[-335.6,2,4.6,6.6,30.4,29.5],[-337,3.5,3.9,4.4,6.2,6.7,7.2,8,30.2,29],[-338,4.5,6,7.7,8.3,28.7],[-339,2.2,1.9],[-340,0.4,1.7,1.9,8.4],[-341,2.2,1.3,1.7],[-342,1.1,1.4,19.6,21.2,23,24.7,26.1],[-343,15.3,1.2],
[-297,24.6,25.4,26.2,27],[-299.7,23.2,24,24.8,25.5,26.3,27,27.8,28.4],[-302,22.4,23.1,23.8,24.5,25.2,25.9,26.6,27.3,28,28.7],[-304.5,21.6,22.3,23,23.7,24.4,25.1,25.8,26.5,27.2,27.9,28.6,29.2],[-307,20.6,21.3,22,22.7,23.4,24.1,24.8,25.5,26.2,26.9,27.6,28.3],[-309.5,19.4,20.1,20.8,21.5,22.2,22.9,23.6,24.3,25,25.7,26.4,27.1,27.8,28.5],[-312,18.4,19.1,19.8,20.5,21.2,21.9,22.6,23.3,24,24.7,25.4,26.1,26.8,27.5,28.2,28.8],[-314.5,17,17.7,18.4,19.1,19.8,20.5,21.2,21.9,22.6,23.3,24,24.7,25.4,26.1,26.8,27.5,28.2,28.9],[-317,15.8,16.5,17.2,17.9,18.6,19.3,20,20.7,21.4,22.1,22.8,23.5,24.2,24.9,25.6,26.3,27,27.7,28.4,29.1],[-319.4,14.2,14.9,15.6,16.3,17,17.7,18.4,19.1,19.8,20.5,21.2,21.9,22.6,23.3,24,24.7,25.4,26.1,26.8,27.5,28.2,28.9],[-322,12.8,13.5,14.2,14.9,15.6,16.3,17,17.7,18.4,19.1,19.8,20.5,21.2,21.9,22.6,23.3,24,24.7,25.4,26.1,26.8,27.5,28.2,28.9],[-324.5,11.8,12.5,13.2,13.9,14.6,15.3,16,16.7,17.4,18.1,18.8,19.5,20.2,20.9,21.6,22.3,23,23.7,24.4,25.1,25.8,26.5,27.2,27.9,28.6],[-327,11,11.7,12.4,13.1,13.8,14.5,15.2,15.9,16.6,17.3,18,18.7,19.4,20.1,20.8,21.5,22.2,22.9,23.6,24.3,25,25.7,26.4,27.1,27.8,28.5,29.1],[-329.5,10.3,11,11.7,12.4,13.1,13.8,14.5,15.2,15.9,16.6,17.3,18,18.7,19.4,20.1,20.8,21.5,22.2,22.9,23.6,24.3,25,25.7,26.4,27.1,27.8,28.5,29.2],[-332,9.7,10.4,11.1,11.8,12.5,13.2,13.9,14.6,15.3,16,16.7,17.4,18.1,18.8,19.5,20.2,20.9,21.6,22.3,23,23.7,24.4,25.1,25.8,26.5,27.2,27.9,28.6,29.2],[-334.5,9,9.7,10.4,11.1,11.8,12.5,13.2,13.9,14.6,15.3,16,16.7,17.4,18.1,18.8,19.5,20.2,20.9,21.6,22.3,23,23.7,24.4,25.1,25.8,26.5,27.2,27.9,28.6],[-337,8.7,9.4,10.1,10.8,11.5,12.2,12.9,13.6,14.3,15,15.7,16.4,17.1,17.8,18.5,19.2,19.9,20.6,21.3,22,22.7,23.4,24.1,24.8,25.5,26.2,26.9,27.6,28.2],[-339.3,14.3,15,15.7,16.4,17.1,17.8,18.5,19.2,19.9,20.6,21.3,22,22.7,23.4,24.1,24.8,25.5,26.2,26.9,27.5],[-341,17.4,18.2,20,20.8,21.6,22.4,23.3,24.1,24.9,25.6,26.4]
];
const sacSidFill = [
[-298.4,23.8,24.6,25.2,25.9,26.7,27.4],[-300.8,22.8,23.5,24.2,24.9,25.6,26.3,27,27.7,28.4],[-303.2,22,22.7,23.4,24.1,24.8,25.5,26.2,26.9,27.6,28.3,29],[-305.8,20.9,21.6,22.3,23,23.7,24.4,25.1,25.8,26.5,27.2,27.9,28.6],[-308.2,19.9,20.6,21.3,22,22.7,23.4,24.1,24.8,25.5,26.2,26.9,27.6,28.3],[-310.8,18.8,19.5,20.2,20.9,21.6,22.3,23,23.7,24.4,25.1,25.8,26.5,27.2,27.9,28.6],[-313.2,17.7,18.4,19.1,19.8,20.5,21.2,21.9,22.6,23.3,24,24.7,25.4,26.1,26.8,27.5,28.2,28.8],[-315.8,16.4,17.1,17.8,18.5,19.2,19.9,20.6,21.3,22,22.7,23.4,24.1,24.8,25.5,26.2,26.9,27.6,28.3,29],[-318.2,15,15.7,16.4,17.1,17.8,18.5,19.2,19.9,20.6,21.3,22,22.7,23.4,24.1,24.8,25.5,26.2,26.9,27.6,28.3,29],[-320.7,13.5,14.2,14.9,15.6,16.3,17,17.7,18.4,19.1,19.8,20.5,21.2,21.9,22.6,23.3,24,24.7,25.4,26.1,26.8,27.5,28.2,28.9],[-323.2,12.2,12.9,13.6,14.3,15,15.7,16.4,17.1,17.8,18.5,19.2,19.9,20.6,21.3,22,22.7,23.4,24.1,24.8,25.5,26.2,26.9,27.6,28.3,29],[-325.8,11.4,12.1,12.8,13.5,14.2,14.9,15.6,16.3,17,17.7,18.4,19.1,19.8,20.5,21.2,21.9,22.6,23.3,24,24.7,25.4,26.1,26.8,27.5,28.2,28.9],[-328.2,10.7,11.4,12.1,12.8,13.5,14.2,14.9,15.6,16.3,17,17.7,18.4,19.1,19.8,20.5,21.2,21.9,22.6,23.3,24,24.7,25.4,26.1,26.8,27.5,28.2,28.9],[-330.8,10,10.7,11.4,12.1,12.8,13.5,14.2,14.9,15.6,16.3,17,17.7,18.4,19.1,19.8,20.5,21.2,21.9,22.6,23.3,24,24.7,25.4,26.1,26.8,27.5,28.2,28.9],[-333.2,9.3,10,10.7,11.4,12.1,12.8,13.5,14.2,14.9,15.6,16.3,17,17.7,18.4,19.1,19.8,20.5,21.2,21.9,22.6,23.3,24,24.7,25.4,26.1,26.8,27.5,28.2,28.9],[-335.8,8.9,9.6,10.3,11,11.7,12.4,13.1,13.8,14.5,15.2,15.9,16.6,17.3,18,18.7,19.4,20.1,20.8,21.5,22.2,22.9,23.6,24.3,25,25.7,26.4,27.1,27.8,28.5],[-338.2,11,11.8,12.6,13.3,14,14.7,15.4,16.1,16.8,17.5,18.2,18.9,19.6,20.3,21,21.7,22.4,23.1,23.8,24.5,25.2,25.9,26.6,27.3,27.9],[-340.2,15.4,16.2,17,17.8,18.6,19.4,20.2,20.9,21.6,22.3,23,23.7,24.4,25.1,25.8,26.5,27.1]
];
const sacSidEdge = [
[-294,24,25,25.8,27],[-295.5,23,24.2,26,27.2,28],[-298,22.6,28.5,28.9],[-300,22,21.4,29,29.4],[-303,20.8,21.3,29.3],[-305.5,20,20.6,29.5],[-308,19,19.4,29.3],[-310.5,18,18.5,29.1],[-313,16.6,17.2,29.3],[-315.5,15.6,16.1,29.5],[-318,14,14.6,15,29.6],[-320,13.1,13.6,29.4],[-322.5,11.9,12.4,29.5],[-325,10.7,11.4,29.6],[-327.5,10,10.4,29.4],[-330,9.2,9.7,29.7],[-332.5,8.8,9.2,29.5],[-335,7.8,8.4,29.4],[-338,6.8,7.3,9.2,10,28.9],[-339.5,9.6,11,12,13,28.2],[-340.7,14,15,16,16.9,27.3],[-342,17.8,18.6,19.3,20.3,22,22.7,23.9,25.3,25.8,26.7,27.4],[-342.8,22.3,24.1,25.2,26]
];
const dimerRosetta = [
[-102,16.5,19,20.5,24.5,25.5,26.8,27.4,28.4,30.2,32.2,33.7,35.4,37,38.6,42.4],[-102.5,21,23,25,28,29.5,31,32.5,34.5,36,37.5,40.2,42,43],[-103,18,20.9,22.1,23.5,24.5,26,27.2,28.3,29.5,30.8,31.8,40.8,42.9,43.5],[-103.4,14,14.8,19.5,21.8,22.7,23.5,24.8,25.7,26.7,27.7,41.6,43,44.4,45.6],[-103.7,15.6,16.8,20.3,21.1,22.5,23.6,24.6,42.6,43.4,45,47.2],[-104,14.1,15,19,19.8,20.8,21.7,23,24,43.6,44.7,46],[-104.4,8.7,9.4,10.1,13,14.7,15.4,16.4,17.7,18.6,19.4,20.4,21.3,44.1,45.1,46.3,47.4],[-104.7,9.9,11.1,12,12.6,16.3,17,18,19,20,21,44.9,45.6,46.7],[-105,7.6,8.2,8.9,10.5,11.6,13.6,14.4,15.2,16,16.9,17.8,18.8,19.7,20.6,45.5,46.3,47.3],[-105.3,4.7,6.5,8.3,9.6,12.2,12.9,14.1,15,15.9,16.9,17.7,18.7,44.2,46.8,47.4],[-105.6,5.2,7.7,9.9,10.7,11.7,13.4,14,14.8,16.8,17.6,19.6,43.8,45],[-106,5,7.2,8,10.3,11,12.6,13.7,15.4,16.4,17.6,18.6,42.8,43.8,44.3,45.8],[-106.3,11.5,14.3,16,18.2,19.6,41.3,42.3,45.3,46],[-106.6,4.4,6.9,10.4,10.9,14.3,15.4,17.1,40.6,41.4,43.4,47],[-107,2.2,9.4,10.4,11.3,16.2,17,18,19,20.8,21.5,41.4,42.6,45.9],[-107.5,1,2,7.1,12.7,14.6,18.1,19.2,20.5,21.5,40.5,41.9,43.2,45.6],[-108,18.7,20.3,21.3,22.2,39.6,40.3,41.5],[-108.4,13.8,14.6,15.3,18.5,20.6,21.6,39.8,40.5],[-108.8,8.7,16.9,17.7,18.7,20.8,22,23.6,39,39.9],[-109.1,7.7,8.2,9,15.1,17.4,19.4,20.2,21.4,23.2,38.6],[-109.3,6.4,10.9,11.8,12.2,14,15.4,17.9,19,24,44.7],[-109.6,12,13.2,14.6,16.4,18.8,24.3,25,38.1,44.4],[-109.9,7.5,12.4,17,18.4,20.5,21,22,23.8,38.5,39.3,40.9],[-110.2,7.7,10.3,11.1,11.9,13,17.4,18.2,19.9,21.2,23,37.6,41.9,44.1],[-110.5,8.7,10.4,13,14.3,15,17.5,19.6,22.2,24,38.2,42.5],[-110.9,14.5,16.2,18.3,20.6,22,23.5,24.8,37,38.5,40],[-111.2,6.4,15.5,16.8,19.6,21.3,23.2,25.3,36.5,40.6],[-111.6,12.8,20.2,21,23.8,25.8,26.5,36.8,38.7],[-111.9,12.4,20.6,22,24.8,27.2,28.3,36],[-112.1,15,21.6,23.1,25,28.6],[-112.5,17.9,23,24.4,27.3,29.2,34.9],[-112.9,18,20,25.2,27.9,29,30,34.5,35.2],[-113,15.3,28.2,29.9,35.6],[-113.3,26.6,31.3,32.4,35.9],[-113.6,33.6],[-114,16.9,32.2],[-115.5,37],
[-103.1,32,33,34,35.2,36.2,37.2,38.2,39.2,40],[-103.5,27.8,28.7,29.6,30.5,31.4,32.3,33.2,34.1,35,35.9,36.8,37.7,38.6,39.5,40.4,41.3],[-103.9,24.8,25.7,26.6,27.5,28.4,29.3,30.2,31.1,32,32.9,33.8,34.7,35.6,36.5,37.4,38.3,39.2,40.1,41,41.9,42.8],[-104.3,22,22.9,23.8,24.7,25.6,26.5,27.4,28.3,29.2,30.1,31,31.9,32.8,33.7,34.6,35.5,36.4,37.3,38.2,39.1,40,40.9,41.8,42.7,43.6],[-104.7,21.3,22.2,23.1,24,24.9,25.8,26.7,27.6,28.5,29.4,30.3,31.2,32.1,33,33.9,34.8,35.7,36.6,37.5,38.4,39.3,40.2,41.1,42,42.9,43.8,44.5],[-105.1,20.6,21.5,22.4,23.3,24.2,25.1,26,26.9,27.8,28.7,29.6,30.5,31.4,32.3,33.2,34.1,35,35.9,36.8,37.7,38.6,39.5,40.4,41.3,42.2,43.1,44],[-105.5,20.2,21.1,22,22.9,23.8,24.7,25.6,26.5,27.4,28.3,29.2,30.1,31,31.9,32.8,33.7,34.6,35.5,36.4,37.3,38.2,39.1,40,40.9,41.8],[-105.9,21,21.9,22.8,23.7,24.6,25.5,26.4,27.3,28.2,29.1,30,30.9,31.8,32.7,33.6,34.5,35.4,36.3,37.2,38.1,39,39.9,40.8],[-106.3,22,22.9,23.8,24.7,25.6,26.5,27.4,28.3,29.2,30.1,31,31.9,32.8,33.7,34.6,35.5,36.4,37.3,38.2,39.1,40],[-106.7,22.5,23.4,24.3,25.2,26.1,27,27.9,28.8,29.7,30.6,31.5,32.4,33.3,34.2,35.1,36,36.9,37.8,38.7,39.6],[-107.1,22.9,23.8,24.7,25.6,26.5,27.4,28.3,29.2,30.1,31,31.9,32.8,33.7,34.6,35.5,36.4,37.3,38.2,39.1],[-107.5,23.7,24.6,25.5,26.4,27.3,28.2,29.1,30,30.9,31.8,32.7,33.6,34.5,35.4,36.3,37.2,38.1,39],[-107.9,24.4,25.3,26.2,27.1,28,28.9,29.8,30.7,31.6,32.5,33.4,34.3,35.2,36.1,37,37.9,38.8],[-108.3,24.8,25.7,26.6,27.5,28.4,29.3,30.2,31.1,32,32.9,33.8,34.7,35.6,36.5,37.4,38.3],[-108.7,25,25.9,26.8,27.7,28.6,29.5,30.4,31.3,32.2,33.1,34,34.9,35.8,36.7,37.6,38.3],[-109.1,25.4,26.3,27.2,28.1,29,29.9,30.8,31.7,32.6,33.5,34.4,35.3,36.2,37.1,37.9],[-109.5,25.7,26.6,27.5,28.4,29.3,30.2,31.1,32,32.9,33.8,34.7,35.6,36.5,37.3],[-109.9,25.9,26.8,27.7,28.6,29.5,30.4,31.3,32.2,33.1,34,34.9,35.8,36.6],[-110.3,26.5,27.4,28.3,29.2,30.1,31,31.9,32.8,33.7,34.6,35.5,36.3],[-110.7,27,27.9,28.8,29.7,30.6,31.5,32.4,33.3,34.2,35.1,36],[-111.1,28,28.9,29.8,30.7,31.6,32.5,33.4,34.3,35.2,35.9],[-111.5,29,29.9,30.8,31.7,32.6,33.5,34.4,35.3],[-111.9,29.8,30.7,31.6,32.5,33.4,34.3,35],[-112.3,30.5,31.4,32.3,33.2,34.1,34.7],[-112.7,31.5,32.4,33.3,34]
];
const dimerRosettaFill = [
[-103.3,29.3,30.3,31.3,32.5,33.5,34.5,35.5,36.5,37.5,38.5,39.5],[-103.7,26.2,27.1,28,28.9,29.8,30.7,31.6,32.5,33.4,34.3,35.2,36.1,37,37.9,38.8,39.7,40.6,41.5,42.2],[-104.1,23.3,24.2,25.1,26,26.9,27.8,28.7,29.6,30.5,31.4,32.3,33.2,34.1,35,35.9,36.8,37.7,38.6,39.5,40.4,41.3,42.2,43.1],[-104.5,21.7,22.6,23.5,24.4,25.3,26.2,27.1,28,28.9,29.8,30.7,31.6,32.5,33.4,34.3,35.2,36.1,37,37.9,38.8,39.7,40.6,41.5,42.4,43.3,44.1],[-104.9,21,21.9,22.8,23.7,24.6,25.5,26.4,27.3,28.2,29.1,30,30.9,31.8,32.7,33.6,34.5,35.4,36.3,37.2,38.1,39,39.9,40.8,41.7,42.6,43.5,44.3],[-105.3,20.4,21.3,22.2,23.1,24,24.9,25.8,26.7,27.6,28.5,29.4,30.3,31.2,32.1,33,33.9,34.8,35.7,36.6,37.5,38.4,39.3,40.2,41.1,42,42.9],[-105.7,20.7,21.6,22.5,23.4,24.3,25.2,26.1,27,27.9,28.8,29.7,30.6,31.5,32.4,33.3,34.2,35.1,36,36.9,37.8,38.7,39.6,40.5],[-106.1,21.6,22.5,23.4,24.3,25.2,26.1,27,27.9,28.8,29.7,30.6,31.5,32.4,33.3,34.2,35.1,36,36.9,37.8,38.7,39.6,40.4],[-106.5,22.3,23.2,24.1,25,25.9,26.8,27.7,28.6,29.5,30.4,31.3,32.2,33.1,34,34.9,35.8,36.7,37.6,38.5,39.4],[-106.9,22.7,23.6,24.5,25.4,26.3,27.2,28.1,29,29.9,30.8,31.7,32.6,33.5,34.4,35.3,36.2,37.1,38,38.9],[-107.3,23.3,24.2,25.1,26,26.9,27.8,28.7,29.6,30.5,31.4,32.3,33.2,34.1,35,35.9,36.8,37.7,38.6],[-107.7,24,24.9,25.8,26.7,27.6,28.5,29.4,30.3,31.2,32.1,33,33.9,34.8,35.7,36.6,37.5,38.4],[-108.1,24.6,25.5,26.4,27.3,28.2,29.1,30,30.9,31.8,32.7,33.6,34.5,35.4,36.3,37.2,38.1],[-108.5,25,25.9,26.8,27.7,28.6,29.5,30.4,31.3,32.2,33.1,34,34.9,35.8,36.7,37.6],[-108.9,25.3,26.2,27.1,28,28.9,29.8,30.7,31.6,32.5,33.4,34.3,35.2,36.1,37,37.9],[-109.3,25.6,26.5,27.4,28.3,29.2,30.1,31,31.9,32.8,33.7,34.6,35.5,36.4,37.3],[-109.7,25.9,26.8,27.7,28.6,29.5,30.4,31.3,32.2,33.1,34,34.9,35.8,36.7],[-110.1,26.3,27.2,28.1,29,29.9,30.8,31.7,32.6,33.5,34.4,35.3,36.2],[-110.5,26.8,27.7,28.6,29.5,30.4,31.3,32.2,33.1,34,34.9,35.8],[-110.9,27.6,28.5,29.4,30.3,31.2,32.1,33,33.9,34.8,35.6],[-111.3,28.6,29.5,30.4,31.3,32.2,33.1,34,34.9,35.6],[-111.7,29.5,30.4,31.3,32.2,33.1,34,34.8],[-112.1,30.2,31.1,32,32.9,33.8,34.5],[-112.5,31,31.9,32.8,33.7],[-112.9,31.9,32.8,33.5]
];
const dimerRosettaEdge = [
[-102.2,29,31,33,34.8,36.4,38],[-102.7,26,27.3,29,31.4,33,34.6,36.5,38,40.5,41],[-103.2,26.5,27.6,29,30.3,31.3,40.7,41.6,42.5],[-105.8,19.8,20.4,41.6,42.4],[-106.3,20.6,21.2],[-106.4,40.8,41.6],[-106.8,20.8,21.7],[-106.9,39.9,40.7],[-107.3,21.9,22.6],[-107.4,39.6,40.2],[-107.8,22.8,23.5],[-107.9,39.4,40],[-108.3,23.2,23.9],[-108.4,38.9,39.6],[-108.8,24,24.5],[-108.9,38.5,39.2],[-109.3,24.6,25],[-109.4,38,38.6],[-109.8,24.8,25.3],[-109.9,37.4,38],[-110.3,24.9,25.7],[-110.4,36.9,37.4],[-110.8,25.6,26.2],[-110.9,36.5,37.3],[-111.2,26.4,27.1],[-111.4,36.1,36.6],[-111.6,27.2,28],[-111.9,35.4,36.1],[-112,28.4,29.1],[-112.3,35,35.6],[-112.4,29.5,30],[-112.8,30.3,30.9],[-113.2,33.4,34,30.8]
];
const dimerSid = [
[-80.6,31,32,37,38.3,39.5,42.5,43.6,45,46.2],[-81,25.6,27.8,29.3,35,36,41,41.5,44.5,46.8],[-81.5,24.3,26.6,28.2,31.8,41.2,43.4,45.2],[-82,22.5,23.2,24.6,25.2,40.6,42.2,43.8,47],[-82.7,20.3,23.8,24.5,41.4,42.8,45.8],[-83.4,21.8,22.7,42,43.3],[-84,15.1,20.3,22.5,25,42.6,44],[-84.6,19.5,21.1,23.8,24.3,41.9,43.4,45],[-85,16.2,18.4,21.7,23.1,42.4,43.9],[-85.6,19.1,21.2,22.6,42.8,44.7],[-86,19,20.5,22.4,43,44.6,46.3],[-86.6,17,22.6,23.7,42.6,46.8,47.4],[-87.2,15.1,17.9,21.6,43.7,45.5,47.3],[-87.6,16,16.5,17.2,20.8,22.2,42.8,44,45.6],[-88,15.8,17.2,18.3,20.5,22,43.1,46.1,47],[-88.6,17.9,19.4,21.2,44.5,46.5],[-89,11.4,16.4,18.5,20,21.4,42.2,43.6,45.4],[-89.7,13.8,14.6,16,17.9,20.8,42,44.4,46],[-90,12.6,13.5,15,17,18.7,19.8,43,45.6],[-90.7,13.6,15.8,16.3,18.4,20.2,42.4,44.8],[-91.3,11.6,12.2,14.3,15,17.8,19.4,20.9,41.3,43.5],[-92,12,13.2,16.4,17.4,18.8,20.4,42,43.1],[-92.7,12.5,15.3,16.8,18.2,19.9,41.2,44],[-93.3,11.9,14.4,15.9,17.5,19.2,40.8,42.4],[-94,11.4,13,14.9,16.2,18.8,20.4,41.5,44.4,45],[-94.6,8.8,10.6,12.3,13.8,15,17,18,40.4,41.8,44.7],[-95.3,9.2,10.2,12,13.5,15.4,17.2,18.9,40,42.5,45,47.2],[-95.8,10,11,14,14.6,16.4,19.3,39.7,41],[-96.3,8,11.2,12.3,13.6,15.6,17.7,19.8,40.2,47.2],[-96.8,7.4,10.2,12.8,14.2,16.1,20.2,39.4,41.6],[-97.4,8.3,9,11.6,13.1,15.3,17.3,20.6,38.7,40],[-98,9.6,11.5,12.9,14.4,16.5,18.4,21.2,39,39.7],[-98.5,8.8,11,12.2,15,15.8,17.6,21.7,38.5,39.2,45.7],[-99,9.9,14,16.2,18.8,19.5,21,38.8,42.6],[-99.7,4.7,7.3,7.9,14.6,15.2,16.5,20.2,22.4,38.2,39.4],[-100.3,9.4,10.3,15.6,17.6,18.9,21.6,37.8,38.7,42.3],[-100.9,6.5,9,10,12.7,12.9,19.8,23.2,37.9,39.1],[-101.5,7.7,9.2,17.6,18.6,21.4,23,38.1,40],[-102.2,8.6,8.1,12.2,16,17.3,20,21.8,24.2,37.1,39],[-102.8,6.5,7.5,10,11.9,12.8,14,15.5,16.6,19.4,24.6,36.8],[-103.3,10.9,14.9,17.2,18.6,20.3,22.6,24.8,37.2,39.3],[-103.9,4.3,11,16.2,19,21.4,25.5,36.2,37.8,40.5],[-104.2,5,12.6,14.5,17.5,20.2,22.4,25.8,36.6],[-104.7,7.2,7.6,13.3,16.8,18.2,23.2,26,35.9,37.2],[-105.1,6.6,8.8,15.6,18.8,21.2,23.8,26.8,36.2],[-105.5,5,10.8,12.8,15.1,17.4,19,20,22,24.5,27.2,35.3],[-105.9,6.4,10.6,20.7,22.5,25.1,26.1,27,35.6,37],[-106.5,6.5,11,11.5,19.7,23.1,24.8,27.6,34.8,37.1],[-107,2,15.5,17,23.8,25.7,28.4,34.6],[-107.5,0.9,2,16.9,23.4,24.9,26.2,28.8,33.9],[-107.9,12.4,13,25.4,27,28.1,32.6,34.2],[-108.3,7.6,10.6,26.4,28,29,30.6,33.1,34],[-108.9,27.7,30.2,31.6,33.4,36.5],[-109.5,27.9,31,33,33.5],[-109.9,23.2,25.1,29.6,31.3,33.8],[-110.4,20.1,30.1,33],[-110.9,15.3,17.9,32.9,32.5],[-111.3,27.1,27.6,31.4,33.3],[-111.7,20,31.2,35.9],[-112.5,32.3],
[-82,28,29,30,31,32,33,34,35,36,37,38,39,40],[-82.8,26.6,27.5,28.4,29.3,30.2,31.1,32,32.9,33.8,34.7,35.6,36.5,37.4,38.3,39.2,40.1,41],[-83.5,25.8,26.7,27.6,28.5,29.4,30.3,31.2,32.1,33,33.9,34.8,35.7,36.6,37.5,38.4,39.3,40.2,41.1],[-84.3,25.3,26.2,27.1,28,28.9,29.8,30.7,31.6,32.5,33.4,34.3,35.2,36.1,37,37.9,38.8,39.7,40.6,41.5],[-85,24.5,25.4,26.3,27.2,28.1,29,29.9,30.8,31.7,32.6,33.5,34.4,35.3,36.2,37.1,38,38.9,39.8,40.7,41.6],[-85.8,24,24.9,25.8,26.7,27.6,28.5,29.4,30.3,31.2,32.1,33,33.9,34.8,35.7,36.6,37.5,38.4,39.3,40.2,41.1,42],[-86.6,23.5,24.4,25.3,26.2,27.1,28,28.9,29.8,30.7,31.6,32.5,33.4,34.3,35.2,36.1,37,37.9,38.8,39.7,40.6,41.5],[-87.4,23,23.9,24.8,25.7,26.6,27.5,28.4,29.3,30.2,31.1,32,32.9,33.8,34.7,35.6,36.5,37.4,38.3,39.2,40.1,41,41.9],[-88.1,22.8,23.7,24.6,25.5,26.4,27.3,28.2,29.1,30,30.9,31.8,32.7,33.6,34.5,35.4,36.3,37.2,38.1,39,39.9,40.8,41.7],[-88.9,22.2,23.1,24,24.9,25.8,26.7,27.6,28.5,29.4,30.3,31.2,32.1,33,33.9,34.8,35.7,36.6,37.5,38.4,39.3,40.2,41.1],[-89.7,21.8,22.7,23.6,24.5,25.4,26.3,27.2,28.1,29,29.9,30.8,31.7,32.6,33.5,34.4,35.3,36.2,37.1,38,38.9,39.8,40.7],[-90.4,21.6,22.5,23.4,24.3,25.2,26.1,27,27.9,28.8,29.7,30.6,31.5,32.4,33.3,34.2,35.1,36,36.9,37.8,38.7,39.6,40.5],[-91.2,21.1,22,22.9,23.8,24.7,25.6,26.5,27.4,28.3,29.2,30.1,31,31.9,32.8,33.7,34.6,35.5,36.4,37.3,38.2,39.1,40],[-92,20.8,21.7,22.6,23.5,24.4,25.3,26.2,27.1,28,28.9,29.8,30.7,31.6,32.5,33.4,34.3,35.2,36.1,37,37.9,38.8,39.7],[-92.7,20.7,21.6,22.5,23.4,24.3,25.2,26.1,27,27.9,28.8,29.7,30.6,31.5,32.4,33.3,34.2,35.1,36,36.9,37.8,38.7,39.6],[-93.5,20.5,21.4,22.3,23.2,24.1,25,25.9,26.8,27.7,28.6,29.5,30.4,31.3,32.2,33.1,34,34.9,35.8,36.7,37.6,38.5,39.4],[-94.3,21,21.9,22.8,23.7,24.6,25.5,26.4,27.3,28.2,29.1,30,30.9,31.8,32.7,33.6,34.5,35.4,36.3,37.2,38.1,39],[-95,21.4,22.3,23.2,24.1,25,25.9,26.8,27.7,28.6,29.5,30.4,31.3,32.2,33.1,34,34.9,35.8,36.7,37.6,38.5,39.2],[-95.8,21.8,22.7,23.6,24.5,25.4,26.3,27.2,28.1,29,29.9,30.8,31.7,32.6,33.5,34.4,35.3,36.2,37.1,38,38.8],[-96.6,22.2,23.1,24,24.9,25.8,26.7,27.6,28.5,29.4,30.3,31.2,32.1,33,33.9,34.8,35.7,36.6,37.5,38.4],[-97.3,22.7,23.6,24.5,25.4,26.3,27.2,28.1,29,29.9,30.8,31.7,32.6,33.5,34.4,35.3,36.2,37.1,38],[-98.1,23.2,24.1,25,25.9,26.8,27.7,28.6,29.5,30.4,31.3,32.2,33.1,34,34.9,35.8,36.7,37.6],[-98.9,23.8,24.7,25.6,26.5,27.4,28.3,29.2,30.1,31,31.9,32.8,33.7,34.6,35.5,36.4,37.3],[-99.6,24.2,25.1,26,26.9,27.8,28.7,29.6,30.5,31.4,32.3,33.2,34.1,35,35.9,36.8,37.5],[-100.4,24.8,25.7,26.6,27.5,28.4,29.3,30.2,31.1,32,32.9,33.8,34.7,35.6,36.5,37.2],[-101.2,25,25.9,26.8,27.7,28.6,29.5,30.4,31.3,32.2,33.1,34,34.9,35.8,36.7],[-101.9,25.6,26.5,27.4,28.3,29.2,30.1,31,31.9,32.8,33.7,34.6,35.5,36.3],[-102.7,26,26.9,27.8,28.7,29.6,30.5,31.4,32.3,33.2,34.1,35,35.9],[-103.5,26.5,27.4,28.3,29.2,30.1,31,31.9,32.8,33.7,34.6,35.5],[-104.2,27,27.9,28.8,29.7,30.6,31.5,32.4,33.3,34.2,35.1],[-105,27.7,28.6,29.5,30.4,31.3,32.2,33.1,34,34.8],[-105.8,28.4,29.3,30.2,31.1,32,32.9,33.8,34.5],[-106.5,29,29.9,30.8,31.7,32.6,33.5,34.1]
];
const dimerSidFill = [
[-82.4,27.2,28.1,29,29.9,30.8,31.7,32.6,33.5,34.4,35.3,36.2,37.1,38,38.9,39.8,40.6],[-83.2,26.2,27.1,28,28.9,29.8,30.7,31.6,32.5,33.4,34.3,35.2,36.1,37,37.9,38.8,39.7,40.6],[-83.9,25.5,26.4,27.3,28.2,29.1,30,30.9,31.8,32.7,33.6,34.5,35.4,36.3,37.2,38.1,39,39.9,40.8],[-84.7,24.9,25.8,26.7,27.6,28.5,29.4,30.3,31.2,32.1,33,33.9,34.8,35.7,36.6,37.5,38.4,39.3,40.2,41.1],[-85.4,24.3,25.2,26.1,27,27.9,28.8,29.7,30.6,31.5,32.4,33.3,34.2,35.1,36,36.9,37.8,38.7,39.6,40.5,41.4],[-86.2,23.8,24.7,25.6,26.5,27.4,28.3,29.2,30.1,31,31.9,32.8,33.7,34.6,35.5,36.4,37.3,38.2,39.1,40,40.9,41.8],[-87,23.3,24.2,25.1,26,26.9,27.8,28.7,29.6,30.5,31.4,32.3,33.2,34.1,35,35.9,36.8,37.7,38.6,39.5,40.4,41.3],[-87.8,23,23.9,24.8,25.7,26.6,27.5,28.4,29.3,30.2,31.1,32,32.9,33.8,34.7,35.6,36.5,37.4,38.3,39.2,40.1,41,41.9],[-88.5,22.5,23.4,24.3,25.2,26.1,27,27.9,28.8,29.7,30.6,31.5,32.4,33.3,34.2,35.1,36,36.9,37.8,38.7,39.6,40.5,41.4],[-89.3,22,22.9,23.8,24.7,25.6,26.5,27.4,28.3,29.2,30.1,31,31.9,32.8,33.7,34.6,35.5,36.4,37.3,38.2,39.1,40,40.9],[-90,21.7,22.6,23.5,24.4,25.3,26.2,27.1,28,28.9,29.8,30.7,31.6,32.5,33.4,34.3,35.2,36.1,37,37.9,38.8,39.7,40.6],[-90.8,21.3,22.2,23.1,24,24.9,25.8,26.7,27.6,28.5,29.4,30.3,31.2,32.1,33,33.9,34.8,35.7,36.6,37.5,38.4,39.3,40.2],[-91.6,21,21.9,22.8,23.7,24.6,25.5,26.4,27.3,28.2,29.1,30,30.9,31.8,32.7,33.6,34.5,35.4,36.3,37.2,38.1,39,39.9],[-92.3,20.8,21.7,22.6,23.5,24.4,25.3,26.2,27.1,28,28.9,29.8,30.7,31.6,32.5,33.4,34.3,35.2,36.1,37,37.9,38.8,39.7],[-93.1,20.6,21.5,22.4,23.3,24.2,25.1,26,26.9,27.8,28.7,29.6,30.5,31.4,32.3,33.2,34.1,35,35.9,36.8,37.7,38.6,39.5],[-93.9,20.8,21.7,22.6,23.5,24.4,25.3,26.2,27.1,28,28.9,29.8,30.7,31.6,32.5,33.4,34.3,35.2,36.1,37,37.9,38.8],[-94.7,21.2,22.1,23,23.9,24.8,25.7,26.6,27.5,28.4,29.3,30.2,31.1,32,32.9,33.8,34.7,35.6,36.5,37.4,38.3,39.1],[-95.4,21.6,22.5,23.4,24.3,25.2,26.1,27,27.9,28.8,29.7,30.6,31.5,32.4,33.3,34.2,35.1,36,36.9,37.8,38.7],[-96.2,22,22.9,23.8,24.7,25.6,26.5,27.4,28.3,29.2,30.1,31,31.9,32.8,33.7,34.6,35.5,36.4,37.3,38.2],[-97,22.5,23.4,24.3,25.2,26.1,27,27.9,28.8,29.7,30.6,31.5,32.4,33.3,34.2,35.1,36,36.9,37.8],[-97.7,23,23.9,24.8,25.7,26.6,27.5,28.4,29.3,30.2,31.1,32,32.9,33.8,34.7,35.6,36.5,37.4],[-98.5,23.5,24.4,25.3,26.2,27.1,28,28.9,29.8,30.7,31.6,32.5,33.4,34.3,35.2,36.1,37,37.8],[-99.3,24,24.9,25.8,26.7,27.6,28.5,29.4,30.3,31.2,32.1,33,33.9,34.8,35.7,36.6,37.4],[-100,24.6,25.5,26.4,27.3,28.2,29.1,30,30.9,31.8,32.7,33.6,34.5,35.4,36.3,37.2],[-100.8,24.9,25.8,26.7,27.6,28.5,29.4,30.3,31.2,32.1,33,33.9,34.8,35.7,36.6],[-101.5,25.3,26.2,27.1,28,28.9,29.8,30.7,31.6,32.5,33.4,34.3,35.2,36.1],[-102.3,25.8,26.7,27.6,28.5,29.4,30.3,31.2,32.1,33,33.9,34.8,35.7],[-103.1,26.3,27.2,28.1,29,29.9,30.8,31.7,32.6,33.5,34.4,35.3],[-103.8,26.8,27.7,28.6,29.5,30.4,31.3,32.2,33.1,34,34.9,35.5],[-104.6,27.3,28.2,29.1,30,30.9,31.8,32.7,33.6,34.5,35.1],[-105.4,28,28.9,29.8,30.7,31.6,32.5,33.4,34.3],[-106.1,28.7,29.6,30.5,31.4,32.3,33.2,34]
];
const dimerSidEdge = [
[-80.8,29.4,33.5,39.6,41.8],[-81.3,27,28.6,30.3,33,34.2,35.9,37.2,38.8,40],[-83,41.6,42.4],[-84,24.4,25],[-85,42.2,42.9],[-85.5,23.4,24],[-87,22.5,23,42.4,43],[-88.5,21.6,22.3],[-89,42,42.6],[-90,20.8,21.4],[-91,41,41.6],[-91.5,20.3,20.8],[-93,19.8,20.3,40.4,41],[-94.5,19.9,20.6],[-95,39.6,40.3],[-96,20.6,21.3],[-97,38.9,39.5],[-97.5,21.3,22.1],[-99,22.4,23,38.2,38.7],[-100.5,23.3,24],[-101,37.7,38.4],[-102,24.1,24.9],[-103,36.5,37],[-103.5,25,25.8],[-105,25.6,26.6,35.6,36.1],[-106.5,26.6,27.5,34.6,35.2],[-107,28.1,29.4,30.4,31.2,33,34],[-107.5,27.4,28.2,30,31,32.5],[-108,29.2,31.4,32]
];
const xTicks1 = [0,5,10,15,20,25,30];
const xTicks2 = [0,10,20,30,40];
const panels = [
    {title:"1gzx", label:"Rosetta", color:"#0000b8", rows:[...gzxRosetta,...gzxRosettaFill,...gzxRosettaEdge], left:32.3, top:10, xMax:34.6, yDomain:[-246.6,-142.6], xTicks:xTicks1, yTicks:[-160,-180,-200,-220,-240]},
    {title:"1gzx", label:"Rosetta with SID", color:"#d80000", rows:[...gzxSid,...gzxSidFill,...gzxSidEdge], left:381, top:10, xMax:34.7, yDomain:[-241,-56], xTicks:xTicks1, yTicks:[-100,-150,-200]},
    {title:"1sac", label:"Rosetta", color:"#0000b8", rows:[...sacRosetta,...sacRosettaFill,...sacRosettaEdge], left:33.3, top:273.3, xMax:33.5, yDomain:[-348.7,-257.3], xTicks:xTicks1, yTicks:[-260,-280,-300,-320,-340]},
    {title:"1sac", label:"Rosetta with SID", color:"#d80000", rows:[...sacSid,...sacSidFill,...sacSidEdge], left:382.3, top:273.3, xMax:33.5, yDomain:[-347.9,-227.1], xTicks:xTicks1, yTicks:[-240,-260,-280,-300,-320,-340]},
    {title:"1gzx_dimers", label:"Rosetta", color:"#0000b8", rows:[...dimerRosetta,...dimerRosettaFill,...dimerRosettaEdge], left:33.3, top:542.7, xMax:47.5, yDomain:[-120.4,-101.9], xTicks:xTicks2, yTicks:[-105,-110,-115,-120]},
    {title:"1gzx_dimers", label:"Rosetta with SID", color:"#d80000", rows:[...dimerSid,...dimerSidFill,...dimerSidEdge], left:382.3, top:542.7, xMax:47.5, yDomain:[-117.5,-80.4], xTicks:xTicks2, yTicks:[-85,-90,-95,-100,-105,-110,-115]}
];
const plotW = 283, plotH = 219;
const svg = d3.select("#canvas");

panels.forEach((p, i) => {
    const points = p.rows.flatMap(r => r.slice(1).map(x => [x, r[0]]));
    const x = d3.scaleLinear().domain([0, p.xMax]).range([0, plotW]);
    const y = d3.scaleLinear().domain(p.yDomain).range([plotH, 0]);
    const g = svg.append("g").attr("transform", `translate(${p.left},${p.top})`);

    svg.append("clipPath").attr("id", "clip" + i)
        .append("rect").attr("width", plotW).attr("height", plotH);

    g.append("g").attr("clip-path", `url(#clip${i})`)
        .selectAll("circle").data(points).join("circle")
        .attr("cx", d => x(d[0])).attr("cy", d => y(d[1])).attr("r", 2.7)
        .attr("fill", p.color).attr("stroke", "#000").attr("stroke-opacity", 0.45).attr("stroke-width", 0.5);

    // ticks point inwards on all four sides, like the old matplotlib look
    const axes = [
        [d3.axisBottom(x), `translate(0,${plotH})`, p.xTicks, true],
        [d3.axisTop(x), "", p.xTicks, false],
        [d3.axisLeft(y), "", p.yTicks, true],
        [d3.axisRight(y), `translate(${plotW},0)`, p.yTicks, false]
    ];
    axes.forEach(([axis, tr, ticks, labelled]) => {
        const a = g.append("g").attr("transform", tr)
            .call(axis.tickValues(ticks).tickSizeInner(-3).tickSizeOuter(0).tickPadding(5));
        a.selectAll(".domain").remove();
        a.selectAll("line").attr("stroke", "#333").attr("stroke-width", 0.6);
        a.selectAll("text").attr("font-size", 8).attr("font-family", null);
        if (!labelled) a.selectAll("text").remove();
    });

    g.append("rect").attr("width", plotW).attr("height", plotH)
        .attr("fill", "none").attr("stroke", "#333").attr("stroke-width", 0.9);

    // first row sits against the top edge of the page
    g.append("text").attr("x", plotW / 2).attr("y", p.top < 20 ? -1.6 : -3).attr("text-anchor", "middle")
        .attr("font-size", 8.8).text(p.title);
    g.append("text").attr("x", plotW / 2).attr("y", plotH + 19).attr("text-anchor", "middle")
        .attr("font-size", 7.5).text("RMSD (Å)");
    g.append("text").attr("transform", `translate(-26,${plotH / 2}) rotate(-90)`).attr("text-anchor", "middle")
        .attr("font-size", 7.5).text("Score (REU)");

    // legend
    const legendW = p.label === "Rosetta" ? 66 : 108;
    const lg = g.append("g").attr("transform", "translate(4.4,4.3)");
    lg.append("rect").attr("width", legendW).attr("height", 15)
        .attr("fill", "#fff").attr("stroke", "#444").attr("stroke-width", 0.8);
    lg.append("circle").attr("cx", 13.2).attr("cy", 7.5).attr("r", 2.4).attr("fill", p.color);
    lg.append("text").attr("x", 29).attr("y", 10.8).attr("font-size", 9).text(p.label);
});
</script>
</body>
</html>
